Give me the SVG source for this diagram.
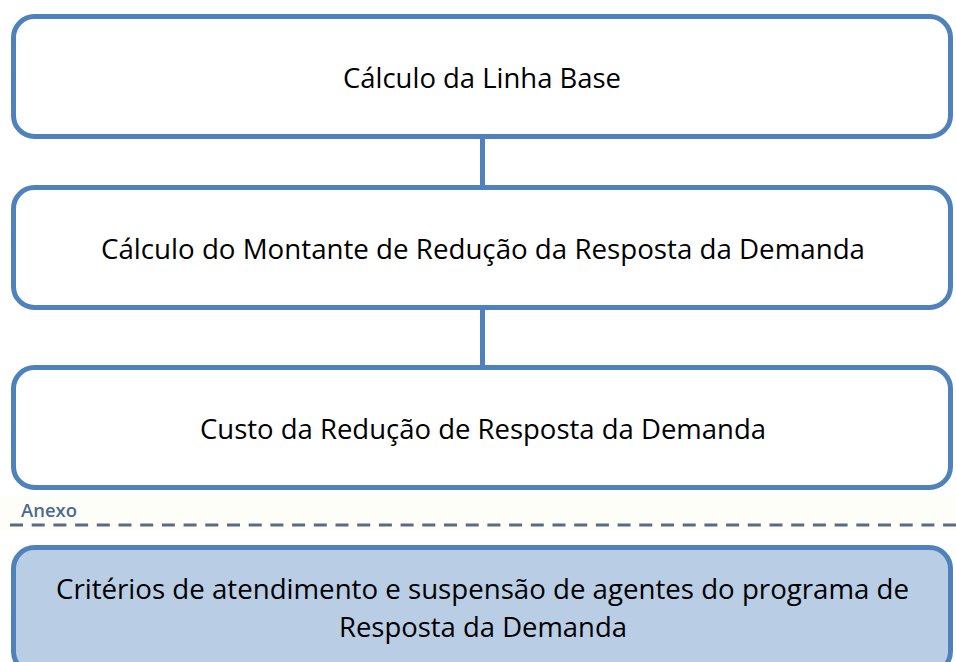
<svg xmlns="http://www.w3.org/2000/svg" width="956" height="662" viewBox="0 0 956 662">
  <defs>
    <style>
      .box { fill: #ffffff; stroke: #4f81bd; stroke-width: 5; }
      .box.annex { fill: #b9cde5; }
      .lbl { font-family: "Open Sans", "Noto Sans", "Liberation Sans", sans-serif; font-size: 28px; fill: #000000; text-anchor: middle; }
      .conn { stroke: #4f81bd; stroke-width: 5; fill: none; }
      .sep { stroke: #5b6a84; stroke-width: 3; stroke-dasharray: 13 8.7; fill: none; }
      .sep-lbl { font-family: "Open Sans", "Liberation Sans", sans-serif; font-size: 18px; font-weight: 600; fill: #4d6a8c; }
    </style>
  </defs>
  <rect width="956" height="662" fill="#ffffff"/>

  <g id="connectors">
    <line class="conn" x1="482.5" y1="137" x2="482.5" y2="187"/>
    <line class="conn" x1="482.5" y1="307" x2="482.5" y2="367"/>
  </g>

  <g id="node-linha-base">
    <rect class="box" x="13.5" y="16.5" width="937" height="120" rx="21" ry="21"/>
    <text class="lbl" x="482" y="88" textLength="278" lengthAdjust="spacingAndGlyphs">Cálculo da Linha Base</text>
  </g>

  <g id="node-montante">
    <rect class="box" x="13.5" y="187.5" width="937" height="120" rx="21" ry="21"/>
    <text class="lbl" x="483" y="259" textLength="764" lengthAdjust="spacingAndGlyphs">Cálculo do Montante de Redução da Resposta da Demanda</text>
  </g>

  <g id="node-custo">
    <rect class="box" x="13.5" y="367.5" width="937" height="120" rx="21" ry="21"/>
    <text class="lbl" x="483" y="439" textLength="566" lengthAdjust="spacingAndGlyphs">Custo da Redução de Resposta da Demanda</text>
  </g>

  <g id="separator">
    <rect x="0" y="496" width="956" height="34" fill="#fefef9"/>
    <text class="sep-lbl" x="21" y="516.5" textLength="56" lengthAdjust="spacingAndGlyphs">Anexo</text>
    <line class="sep" x1="10" y1="525" x2="956" y2="525"/>
  </g>

  <g id="node-criterios">
    <rect class="box annex" x="13.5" y="547.5" width="937" height="125" rx="21" ry="21"/>
    <text class="lbl" x="482.5" y="599" textLength="853" lengthAdjust="spacingAndGlyphs">Critérios de atendimento e suspensão de agentes do programa de</text>
    <text class="lbl" x="483" y="637" textLength="288" lengthAdjust="spacingAndGlyphs">Resposta da Demanda</text>
  </g>
</svg>
